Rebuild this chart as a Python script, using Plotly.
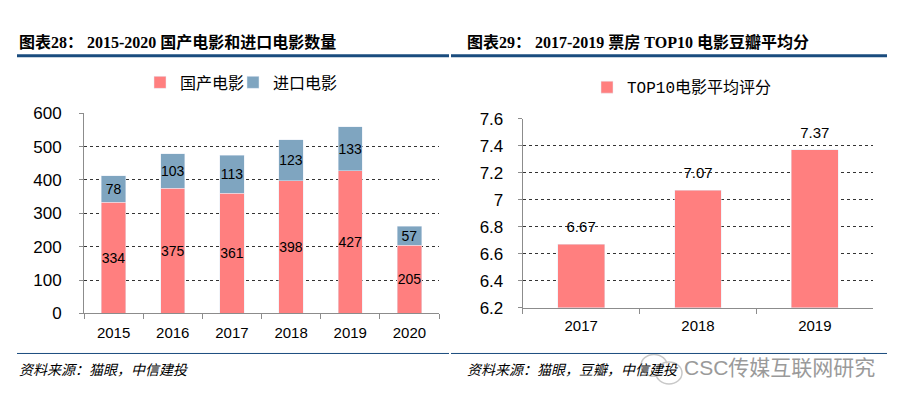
import plotly.graph_objects as go

# ---- data ----
years_left = ["2015", "2016", "2017", "2018", "2019", "2020"]
domestic = [334, 375, 361, 398, 427, 205]
imported = [78, 103, 113, 123, 133, 57]

years_right = ["2017", "2018", "2019"]
avg_score = [6.67, 7.07, 7.37]
score_labels = ["6.67", "7.07", "7.37"]

left_ticks = [0, 100, 200, 300, 400, 500, 600]
right_ticks = [6.2, 6.4, 6.6, 6.8, 7.0, 7.2, 7.4, 7.6]
right_ticktext = ["6.2", "6.4", "6.6", "6.8", "7", "7.2", "7.4", "7.6"]

PINK = "#FF7F7F"
BLUE = "#7FA5C0"
NAVY = "#1A4C7E"
AXIS = "#8C8C8C"
W, H = 905, 415
FONT = "Arial, Liberation Sans, Noto Sans CJK SC, sans-serif"
TITLE_FONT = "Times New Roman, Liberation Serif, Noto Sans CJK SC, serif"

fig = go.Figure()

fig.add_trace(go.Bar(
    x=years_left, y=domestic, name="国产电影", marker_color=PINK,
    width=0.41, text=[str(v) for v in domestic], textposition="inside", textangle=0,
    insidetextanchor="middle", textfont=dict(size=14, color="black", family=FONT),
    xaxis="x", yaxis="y", legend="legend", constraintext="none"))
fig.add_trace(go.Bar(
    x=years_left, y=imported, name="进口电影", marker_color=BLUE,
    width=0.41, text=[str(v) for v in imported], textposition="inside", textangle=0,
    insidetextanchor="middle", textfont=dict(size=14, color="black", family=FONT),
    xaxis="x", yaxis="y", legend="legend3", constraintext="none"))

fig.add_trace(go.Bar(
    x=years_right, y=[s - 6.2 for s in avg_score], base=6.2, name="TOP10电影平均评分",
    marker_color=PINK, width=0.40, xaxis="x2", yaxis="y2", legend="legend2",
    hoverinfo="skip"))

# value labels above the right-hand bars
fig.add_trace(go.Scatter(
    x=years_right, y=avg_score, mode="markers+text", text=score_labels,
    textposition="top center", marker=dict(size=12, color="rgba(0,0,0,0)"),
    textfont=dict(size=15, color="black", family=FONT), showlegend=False,
    hoverinfo="skip", xaxis="x2", yaxis="y2", cliponaxis=False))

axis_common = dict(showline=True, linecolor=AXIS, linewidth=1, ticks="outside",
                   tickcolor=AXIS, ticklen=5, tickfont=dict(size=15, color="black", family=FONT),
                   showgrid=False, zeroline=False, fixedrange=True)

legend_common = dict(orientation="h", xanchor="left", yanchor="middle",
                     bgcolor="rgba(0,0,0,0)", itemwidth=30)

fig.update_layout(
    width=W, height=H, margin=dict(l=0, r=0, t=0, b=0), autosize=False,
    paper_bgcolor="white", plot_bgcolor="white", barmode="stack",
    showlegend=True,
    uniformtext=dict(mode="show", minsize=14),
    xaxis=dict(domain=[84 / W, 439 / W], anchor="y", type="category",
               range=[-0.5, 5.5], tickson="boundaries", ticklabelstandoff=6, **axis_common),
    yaxis=dict(domain=[1 - 319 / H, 1 - 109.3 / H], anchor="x", range=[0, 600],
               tickvals=left_ticks, showline=True, linecolor=AXIS, ticks="outside",
               tickcolor=AXIS, ticklen=4, ticklabelstandoff=14,
               tickfont=dict(size=17, color="black", family=FONT),
               showgrid=True, gridcolor="#333333", griddash="dot", gridwidth=1,
               zeroline=False, fixedrange=True),
    xaxis2=dict(domain=[522.7 / W, 873.3 / W], anchor="y2", type="category",
                range=[-0.5, 2.5], tickson="boundaries", ticklabelstandoff=4, **axis_common),
    yaxis2=dict(domain=[1 - 313.3 / H, 1 - 115 / H], anchor="x2", range=[6.2, 7.6],
                tickvals=right_ticks, ticktext=right_ticktext, showline=True, linecolor=AXIS,
                ticks="outside", tickcolor=AXIS, ticklen=4, ticklabelstandoff=11,
                tickfont=dict(size=17, color="black", family=FONT),
                showgrid=True, gridcolor="#333333", griddash="dot", gridwidth=1,
                zeroline=False, fixedrange=True),
    legend=dict(x=140 / W, y=1 - 77 / H, font=dict(size=16, color="black", family=FONT),
                **legend_common),
    legend3=dict(x=233 / W, y=1 - 77 / H, font=dict(size=16, color="black", family=FONT),
                 **legend_common),
    legend2=dict(x=587 / W, y=1 - 82 / H,
                 font=dict(size=16, color="black", family="Liberation Mono, Noto Sans CJK SC, monospace"),
                 **legend_common),
)

# titles
fig.add_annotation(x=17 / W, y=1 - 35 / H, xref="paper", yref="paper", xanchor="left",
                   yanchor="middle", showarrow=False,
                   text="<b>图表28： 2015-2020 国产电影和进口电影数量</b>",
                   font=dict(size=16, color="black", family=TITLE_FONT))
fig.add_annotation(x=465 / W, y=1 - 35 / H, xref="paper", yref="paper", xanchor="left",
                   yanchor="middle", showarrow=False,
                   text="<b>图表29： 2017-2019 票房 TOP10 电影豆瓣平均分</b>",
                   font=dict(size=16, color="black", family=TITLE_FONT))

# sources
fig.add_annotation(x=17 / W, y=1 - 378 / H, xref="paper", yref="paper", xanchor="left",
                   yanchor="middle", showarrow=False,
                   text="<i>资料来源：猫眼，中信建投</i>",
                   font=dict(size=14, color="black", family=FONT))
fig.add_annotation(x=465 / W, y=1 - 378 / H, xref="paper", yref="paper", xanchor="left",
                   yanchor="middle", showarrow=False,
                   text="<i>资料来源：猫眼，豆瓣，中信建投</i>",
                   font=dict(size=14, color="black", family=FONT))

# watermark
fig.add_shape(type="circle", xref="paper", yref="paper",
              x0=641 / W, x1=667 / W, y0=1 - 385 / H, y1=1 - 362 / H,
              line=dict(color="#C8C8C8", width=1.5), fillcolor="rgba(255,255,255,0.6)")
fig.add_shape(type="circle", xref="paper", yref="paper",
              x0=656 / W, x1=682 / W, y0=1 - 393 / H, y1=1 - 370 / H,
              line=dict(color="#C8C8C8", width=1.5), fillcolor="rgba(255,255,255,0.6)")
fig.add_annotation(x=682 / W, y=1 - 376 / H, xref="paper", yref="paper", xanchor="left",
                   yanchor="middle", showarrow=False, text="CSC传媒互联网研究",
                   font=dict(size=21, color="#9A9A9A", family=FONT))

# header / footer rules
fig.add_shape(type="line", xref="paper", yref="paper", x0=17 / W, x1=449 / W,
              y0=1 - 49 / H, y1=1 - 49 / H, line=dict(color=NAVY, width=3))
fig.add_shape(type="line", xref="paper", yref="paper", x0=451 / W, x1=887 / W,
              y0=1 - 49 / H, y1=1 - 49 / H, line=dict(color=NAVY, width=3))
fig.add_shape(type="line", xref="paper", yref="paper", x0=17 / W, x1=449 / W,
              y0=1 - 361 / H, y1=1 - 361 / H, line=dict(color=NAVY, width=1))
fig.add_shape(type="line", xref="paper", yref="paper", x0=451 / W, x1=887 / W,
              y0=1 - 361 / H, y1=1 - 361 / H, line=dict(color=NAVY, width=1))

fig.write_html("out.html", config={"displayModeBar": False, "responsive": False},
               post_script="document.body.style.margin='0';document.body.style.overflow='hidden';")
